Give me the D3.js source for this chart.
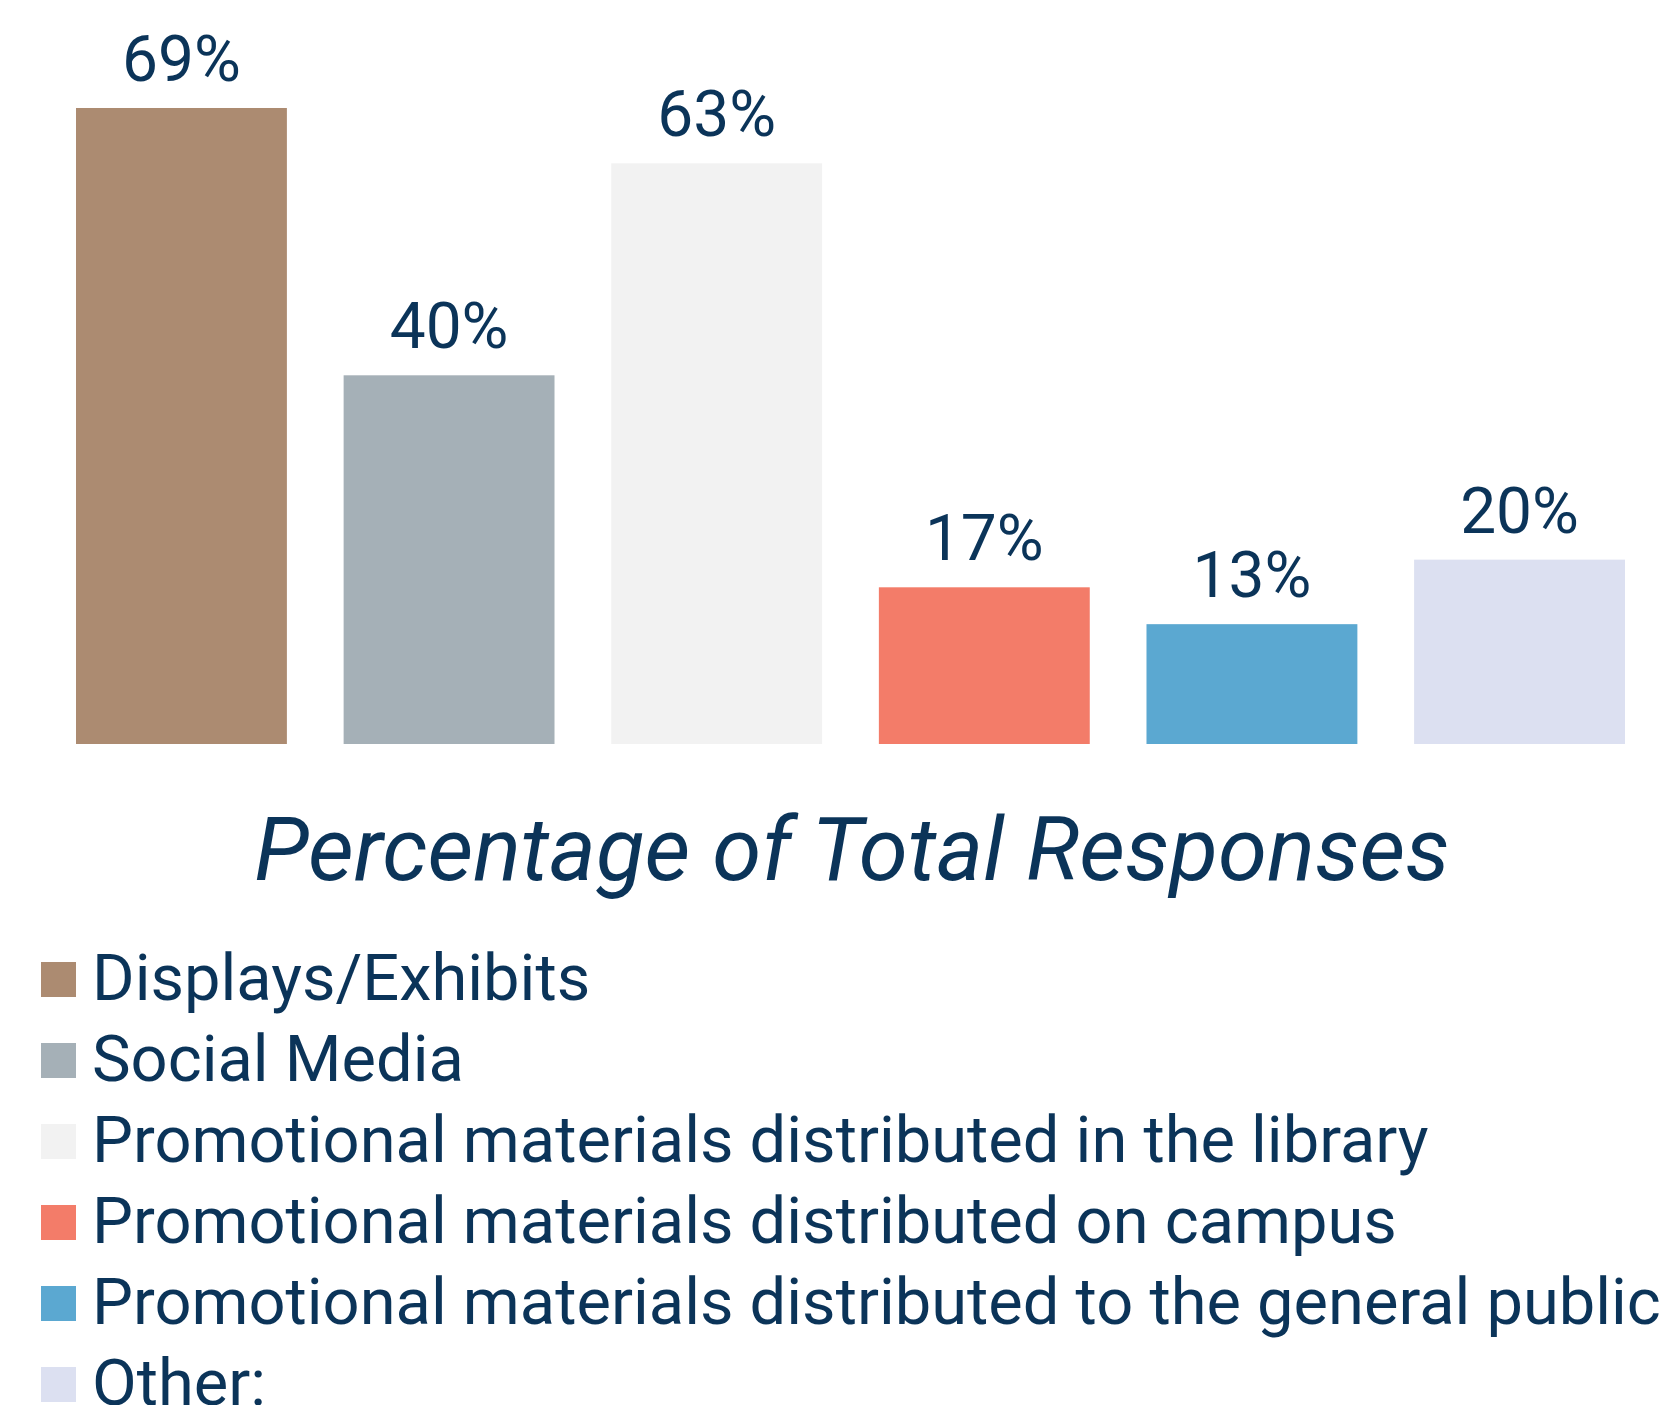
<!DOCTYPE html>
<html>
<head>
<meta charset="utf-8">
<script src="https://cdn.jsdelivr.net/npm/d3@7"></script>
<style>
  html, body { margin: 0; padding: 0; background: #ffffff; }
  svg { display: block; }
</style>
</head>
<body>
<svg id="chart" width="1659" height="1405"></svg>
<script>
const categories = [
  "Displays/Exhibits",
  "Social Media",
  "Promotional materials distributed in the library",
  "Promotional materials distributed on campus",
  "Promotional materials distributed to the general public",
  "Other:"
];
const values = [69, 40, 63, 17, 13, 20];
const colors = ["#ac8b71", "#a5b0b7", "#f2f2f2", "#f37c69", "#5ba8d1", "#dce0f1"];
const axisTitle = "Percentage of Total Responses";

const textColor = "#0b3459";
const svg = d3.select("#chart");

const x = d3.scaleBand()
  .domain(categories)
  .range([76, 1625])
  .paddingInner(0.212)
  .paddingOuter(0);

const y = d3.scaleLinear()
  .domain([0, 80])
  .range([744, 6.6]);

const color = d3.scaleOrdinal().domain(categories).range(colors);

const data = categories.map((c, i) => ({ cat: c, val: values[i] }));

svg.append("g").selectAll("rect")
  .data(data)
  .join("rect")
  .attr("x", d => x(d.cat))
  .attr("y", d => y(d.val))
  .attr("width", x.bandwidth())
  .attr("height", d => y(0) - y(d.val))
  .attr("fill", d => color(d.cat));

svg.append("g").selectAll("text")
  .data(data)
  .join("text")
  .attr("x", d => x(d.cat) + x.bandwidth() / 2)
  .attr("y", d => y(d.val) - 27)
  .attr("text-anchor", "middle")
  .attr("font-family", "Roboto")
  .attr("font-size", 64)
  .attr("fill", textColor)
  .text(d => d.val + "%");

svg.append("text")
  .attr("x", 852)
  .attr("y", 880)
  .attr("text-anchor", "middle")
  .attr("font-family", "Roboto")
  .attr("font-style", "italic")
  .attr("font-size", 89)
  .attr("fill", textColor)
  .text(axisTitle);

const legend = svg.append("g").selectAll("g")
  .data(categories)
  .join("g")
  .attr("transform", (d, i) => `translate(0, ${1000 + i * 81})`);

legend.append("rect")
  .attr("x", 41)
  .attr("y", -38)
  .attr("width", 35)
  .attr("height", 35)
  .attr("fill", d => color(d));

legend.append("text")
  .attr("x", 92)
  .attr("y", 0)
  .attr("font-family", "Roboto")
  .attr("font-size", 65)
  .attr("fill", textColor)
  .text(d => d);
</script>
</body>
</html>
